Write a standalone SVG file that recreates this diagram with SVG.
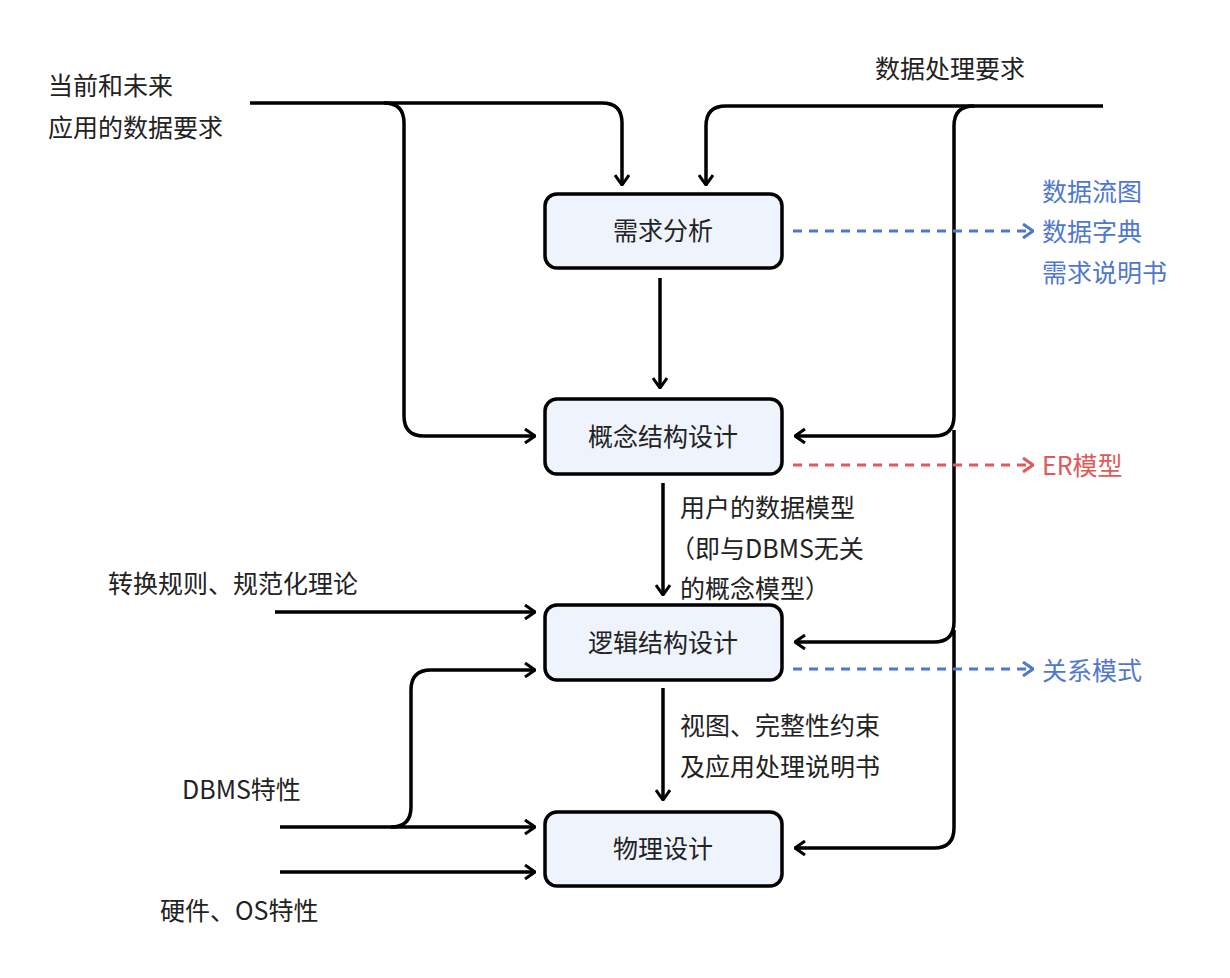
<svg xmlns="http://www.w3.org/2000/svg" width="1230" height="978" viewBox="0 0 1230 978">
<style>
.n{fill:#eef3fc;stroke:#000;stroke-width:3.5}
.t{font-family:"Noto Sans CJK SC","Noto Sans",sans-serif;font-size:25px;fill:#222}
.c{fill:none;stroke:#000;stroke-width:3.5}
.db{fill:none;stroke:#4f78cc;stroke-width:3;stroke-dasharray:9 7}
.dr{fill:none;stroke:#e05a5a;stroke-width:3;stroke-dasharray:9 7}
</style>
<defs>
<marker id="a" viewBox="0 0 12 16" refX="11" refY="8" markerWidth="12" markerHeight="16" markerUnits="userSpaceOnUse" orient="auto"><path d="M1,1 L11,8 L1,15" fill="none" stroke="#000" stroke-width="3"/></marker>
<marker id="ab" viewBox="0 0 12 16" refX="11" refY="8" markerWidth="12" markerHeight="16" markerUnits="userSpaceOnUse" orient="auto"><path d="M1,1 L11,8 L1,15" fill="none" stroke="#4f78cc" stroke-width="3"/></marker>
<marker id="ar" viewBox="0 0 12 16" refX="11" refY="8" markerWidth="12" markerHeight="16" markerUnits="userSpaceOnUse" orient="auto"><path d="M1,1 L11,8 L1,15" fill="none" stroke="#e05a5a" stroke-width="3"/></marker>
</defs>
<g id="connectors">
<path class="c" d="M250,103 H602 Q622,103 622,123 V185" marker-end="url(#a)"/>
<path class="c" d="M384,103 Q404,103 404,123 V416 Q404,436 424,436 H535" marker-end="url(#a)"/>
<path class="c" d="M1103,106 H726 Q706,106 706,126 V185" marker-end="url(#a)"/>
<path class="c" d="M974,106 Q954,106 954,126 V416 Q954,436 934,436 H795" marker-end="url(#a)"/>
<path class="c" d="M954,430 V622 Q954,642 934,642 H795" marker-end="url(#a)"/>
<path class="c" d="M954,630 V828 Q954,848 934,848 H795" marker-end="url(#a)"/>
<path class="c" d="M660,278 V388" marker-end="url(#a)"/>
<path class="c" d="M663,483 V595" marker-end="url(#a)"/>
<path class="c" d="M663,688 V800" marker-end="url(#a)"/>
<path class="c" d="M275,612 H535" marker-end="url(#a)"/>
<path class="c" d="M280,827 H535" marker-end="url(#a)"/>
<path class="c" d="M391,827 Q411,827 411,807 V690 Q411,670 431,670 H535" marker-end="url(#a)"/>
<path class="c" d="M280,872 H535" marker-end="url(#a)"/>
<path class="db" d="M793,231 H1033" marker-end="url(#ab)"/>
<path class="dr" d="M793,465 H1033" marker-end="url(#ar)"/>
<path class="db" d="M793,669 H1033" marker-end="url(#ab)"/>
</g>
<g id="n1"><rect class="n" x="545" y="194" width="237" height="74" rx="12"/><text class="t" x="663" y="240" text-anchor="middle">需求分析</text></g>
<g id="n2"><rect class="n" x="545" y="399" width="237" height="75" rx="12"/><text class="t" x="663" y="446" text-anchor="middle">概念结构设计</text></g>
<g id="n3"><rect class="n" x="545" y="605" width="237" height="75" rx="12"/><text class="t" x="663" y="652" text-anchor="middle">逻辑结构设计</text></g>
<g id="n4"><rect class="n" x="545" y="812" width="237" height="74" rx="12"/><text class="t" x="663" y="858" text-anchor="middle">物理设计</text></g>
<g id="labels" class="t">
<text x="48" y="95">当前和未来</text>
<text x="48" y="137">应用的数据要求</text>
<text x="875" y="78">数据处理要求</text>
<text x="1042" y="201" style="fill:#4f78cc">数据流图</text>
<text x="1042" y="241" style="fill:#4f78cc">数据字典</text>
<text x="1042" y="282" style="fill:#4f78cc">需求说明书</text>
<text x="1042" y="475" style="fill:#e05a5a">ER模型</text>
<text x="1042" y="680" style="fill:#4f78cc">关系模式</text>
<text x="680" y="517">用户的数据模型</text>
<text x="670" y="558">（即与DBMS无关</text>
<text x="680" y="598">的概念模型）</text>
<text x="108" y="593">转换规则、规范化理论</text>
<text x="680" y="735">视图、完整性约束</text>
<text x="680" y="776">及应用处理说明书</text>
<text x="182" y="799">DBMS特性</text>
<text x="160" y="920">硬件、OS特性</text>
</g>
</svg>
